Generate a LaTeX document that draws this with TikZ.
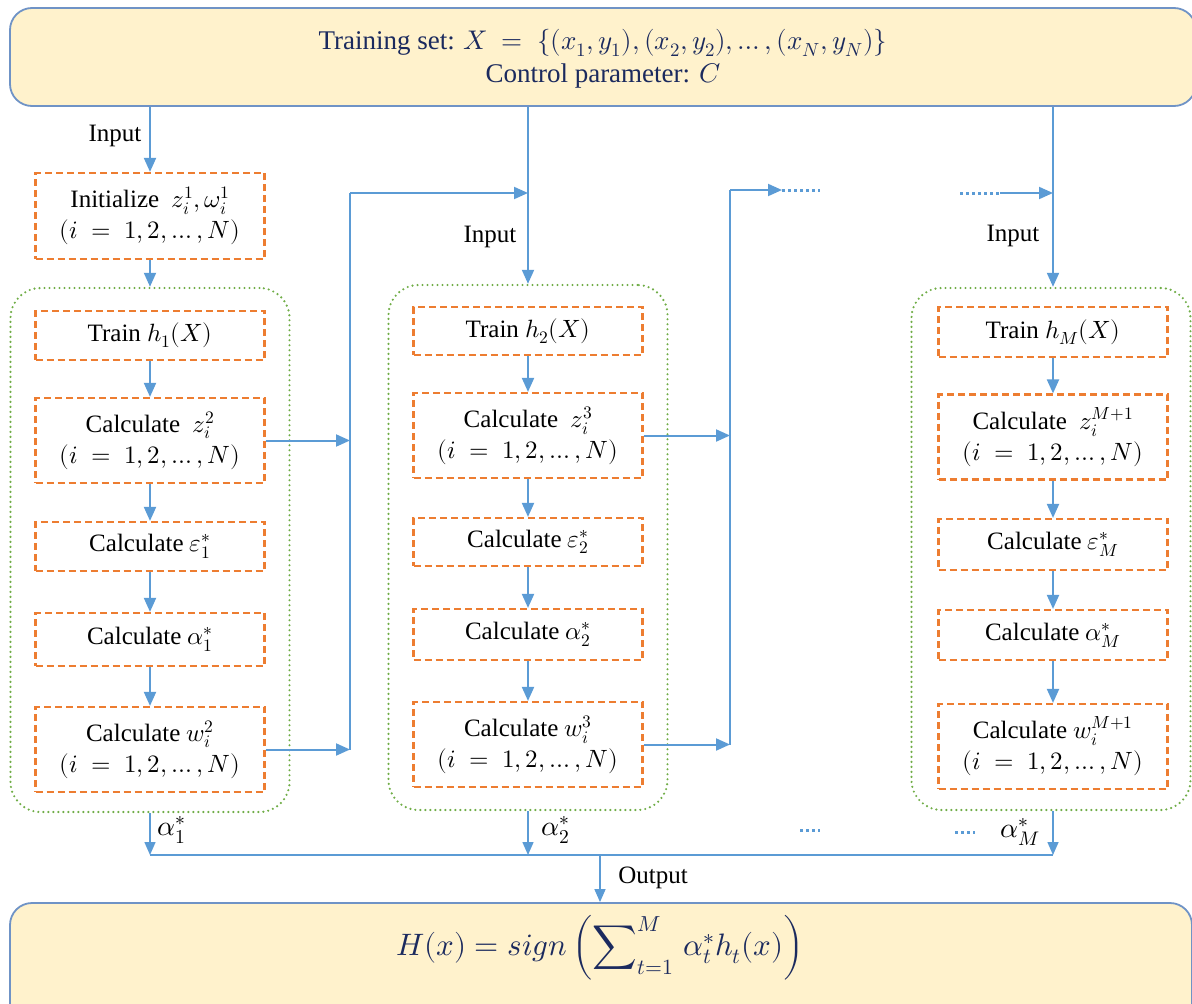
\documentclass[tikz,border=0pt]{standalone}
\usepackage{fontspec}
\usepackage{unicode-math}
\setmainfont{Liberation Serif}
\setmathfont{Latin Modern Math}
\usetikzlibrary{arrows.meta,calc}
\definecolor{arrblue}{HTML}{5B9BD5}
\definecolor{orng}{HTML}{ED7D31}
\definecolor{grn}{HTML}{70AD47}
\definecolor{ylw}{HTML}{FFF2CC}
\definecolor{navy}{HTML}{1B2A5E}
\definecolor{bord}{HTML}{6F93C6}
\begin{document}
\begin{tikzpicture}[x=1pt,y=-1pt,
  stepbox/.style={draw=orng, line width=2.2pt, dash pattern=on 7pt off 4pt, minimum width=229pt, inner sep=2pt, align=center, font=\fontsize{25}{31}\selectfont},
  onebox/.style={stepbox, minimum height=49pt},
  twobox/.style={stepbox, minimum height=85pt},
  grpbox/.style={draw=grn, line width=2.4pt, dash pattern=on 0pt off 5pt, line cap=round, rounded corners=30pt, minimum width=279pt},
  bigbox/.style={draw=bord, fill=ylw, line width=1.8pt, rounded corners=22pt},
  flow/.style={draw=arrblue, line width=2pt, -{Triangle[length=14pt,width=12pt]}},
  flowthin/.style={draw=arrblue, line width=1.5pt, -{Triangle[length=13pt,width=11pt]}},
  plain/.style={draw=arrblue, line width=2pt},
  thinline/.style={draw=arrblue, line width=1.5pt},
  dotline/.style={draw=arrblue, line width=3pt, dash pattern=on 3pt off 3pt},
  lbl/.style={font=\fontsize{25}{30}\selectfont},
  mlbl/.style={font=\fontsize{28}{30}\selectfont}
]
\useasboundingbox (0,0) rectangle (1192,1004);

% top and bottom boxes
\node[bigbox, minimum width=1186pt, minimum height=98pt] (top) at (603,57) {};
\node[align=center, text=navy, font=\fontsize{27}{33}\selectfont] (toptext) at (603,59)
  {Training set: $X\ =\ \{(x_1,y_1),(x_2,y_2),\ldots,(x_N,y_N)\}$\\ Control parameter: $C$};
\node[bigbox, minimum width=1182pt, minimum height=130pt] (bot) at (601,968) {};
\node[text=navy, font=\fontsize{31}{36}\selectfont] (formula) at (600,948)
  {$\displaystyle H(x) = sign\left(\sum\nolimits_{t=1}^{M}\,\alpha_t^{*}h_t(x)\right)$};

% column 1
\node[stepbox, minimum height=86pt] (init) at (150,216) {Initialize \ $z_i^1,\omega_i^1$\\$(i\ =\ 1,2,\ldots,N)$};
\node[grpbox, minimum height=524pt] (g1) at (150,550) {};
\node[onebox] (t1) at (150,335.5) {Train $h_1(X)$};
\node[twobox] (z1) at (150,440.5) {Calculate \ $z_i^2$\\$(i\ =\ 1,2,\ldots,N)$};
\node[onebox] (e1) at (150,546.5) {Calculate $\varepsilon_1^*$};
\node[onebox, minimum height=53pt] (a1) at (150,639.5) {Calculate $\alpha_1^*$};
\node[twobox] (w1) at (150,749.5) {Calculate $w_i^2$\\$(i\ =\ 1,2,\ldots,N)$};

% column 2
\node[grpbox, minimum height=525pt] (g2) at (528,547.5) {};
\node[onebox, minimum height=48pt] (t2) at (528,331) {Train $h_2(X)$};
\node[twobox] (z2) at (528,435.5) {Calculate \ $z_i^3$\\$(i\ =\ 1,2,\ldots,N)$};
\node[onebox, minimum height=48pt] (e2) at (528,542) {Calculate $\varepsilon_2^*$};
\node[onebox, minimum height=51pt] (a2) at (528,634.5) {Calculate $\alpha_2^*$};
\node[twobox] (w2) at (528,744.5) {Calculate $w_i^3$\\$(i\ =\ 1,2,\ldots,N)$};

% column 3
\node[grpbox, minimum height=522pt] (g3) at (1051,549) {};
\node[onebox, minimum height=50pt] (t3) at (1053,332) {Train $h_M(X)$};
\node[twobox] (z3) at (1053,437) {Calculate \ $z_i^{M+1}$\\$(i\ =\ 1,2,\ldots,N)$};
\node[onebox, minimum height=51pt] (e3) at (1053,544.5) {Calculate $\varepsilon_M^*$};
\node[onebox, minimum height=50pt] (a3) at (1053,635) {Calculate $\alpha_M^*$};
\node[twobox] (w3) at (1053,746.5) {Calculate $w_i^{M+1}$\\$(i\ =\ 1,2,\ldots,N)$};

% labels
\node[lbl] (in1) at (115,136) {Input};
\node[lbl] (in2) at (490,237) {Input};
\node[lbl] (in3) at (1013,236) {Input};
\node[lbl] (outl) at (653,878) {Output};
\node[mlbl] (al1) at (172,830) {$\alpha_1^*$};
\node[mlbl] (al2) at (556,830) {$\alpha_2^*$};
\node[mlbl] (al3) at (1020,832) {$\alpha_M^*$};

% column 1 flow
\draw[flow] (top.south -| init.north) -- (init.north);
\draw[flow] (init.south) -- (g1.north);
\draw[flow] (t1) -- (z1);
\draw[flow] (z1) -- (e1);
\draw[flow] (e1) -- (a1);
\draw[flow] (a1) -- (w1);
% column 2 flow
\draw[flow] (top.south -| t2.north) -- (g2.north -| t2.north);
\draw[flow] (t2) -- (z2);
\draw[flow] (z2) -- (e2);
\draw[flow] (e2) -- (a2);
\draw[flow] (a2) -- (w2);
% column 3 flow
\draw[flow] (top.south -| t3.north) -- (g3.north -| t3.north);
\draw[flow] (t3) -- (z3);
\draw[flow] (z3) -- (e3);
\draw[flow] (e3) -- (a3);
\draw[flow] (a3) -- (w3);

% links 1 -> 2
\coordinate (j1) at (350,193);
\draw[flow] (z1.east) -- (z1.east -| j1);
\draw[flow] (w1.east) -- (w1.east -| j1);
\draw[plain] (w1.east -| j1) -- (j1);
\draw[flow] (j1) -- (j1 -| t2.north);

% links 2 -> ...
\coordinate (j2) at (730,190);
\coordinate (d1) at (782,190);
\coordinate (d1e) at (820,190);
\draw[flow] (z2.east) -- (z2.east -| j2);
\draw[flow] (w2.east) -- (w2.east -| j2);
\draw[plain] (w2.east -| j2) -- (j2);
\draw[flow] (j2) -- (d1);
\draw[dotline] (d1) -- (d1e);

% ... -> 3
\coordinate (d2s) at (960,193);
\coordinate (d2e) at (1000,193);
\draw[dotline] (d2s) -- (d2e);
\draw[flow] (d2e) -- (d2e -| t3.north);

% outputs
\coordinate (bl) at (150,855);
\coordinate (br) at (1053,855);
\coordinate (oj) at (600,855);
\draw[flowthin] (g1.south -| t1.south) -- (bl);
\draw[flowthin] (g2.south -| t2.south) -- (t2.south |- bl);
\draw[flowthin] (g3.south -| t3.south) -- (br);
\draw[thinline] (bl) -- (br);
\draw[flowthin] (oj) -- (oj |- bot.north);

\coordinate (d3s) at (800,830);
\coordinate (d3e) at (820,830);
\coordinate (d4s) at (955,832);
\coordinate (d4e) at (975,832);
\draw[dotline] (d3s) -- (d3e);
\draw[dotline] (d4s) -- (d4e);
\end{tikzpicture}
\end{document}
